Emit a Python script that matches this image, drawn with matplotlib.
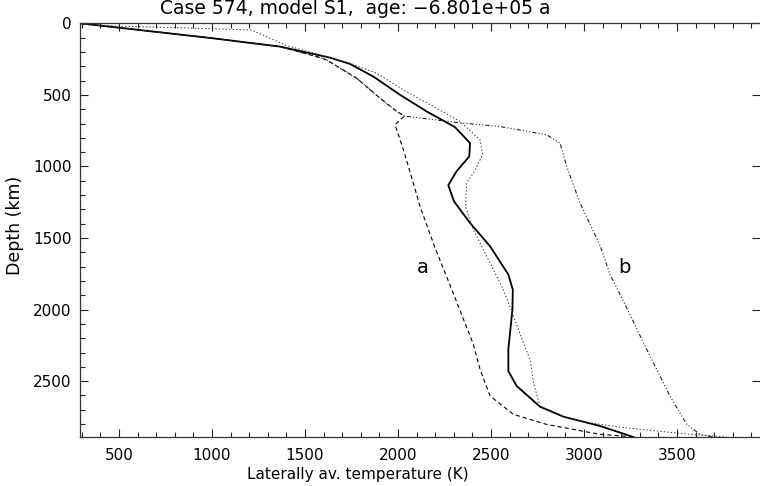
import matplotlib
matplotlib.use("Agg")
from matplotlib import pyplot as plt
from matplotlib.ticker import MultipleLocator

# laterally averaged temperature profiles
solid_T = [290, 1007, 1366, 1634, 1742, 1867, 2011, 2154, 2306, 2387, 2383, 2315,
           2270, 2301, 2387, 2495, 2593, 2617, 2615, 2593, 2593, 2638, 2763, 2889,
           3086, 3265]
solid_D = [0, 105, 163, 240, 284, 372, 500, 616, 725, 837, 930, 1033,
           1131, 1244, 1395, 1558, 1755, 1860, 1999, 2278, 2430, 2534, 2678, 2748,
           2813, 2890]

dotted_T = [290, 468, 828, 1213, 1402, 1543, 1742, 1885, 2029, 2190, 2333, 2441,
            2455, 2405, 2369, 2363, 2396, 2512, 2566, 2611, 2674, 2710, 2728, 2763,
            2889, 2996, 3211, 3391, 3570, 3767]
dotted_D = [5, 19, 31, 47, 156, 207, 280, 349, 465, 582, 686, 814,
            918, 1046, 1116, 1279, 1418, 1720, 1860, 2011, 2232, 2349, 2510, 2674,
            2745, 2785, 2824, 2848, 2871, 2890]

a_T = [290, 1007, 1366, 1563, 1616, 1778, 1903, 1993, 2035, 2015, 1984, 2029,
       2082, 2118, 2199, 2289, 2324, 2405, 2441, 2495, 2620, 2799, 2995, 3086, 3274]
a_D = [0, 105, 163, 233, 256, 384, 523, 616, 648, 670, 709, 884,
       1116, 1279, 1569, 1860, 1976, 2243, 2418, 2604, 2732, 2802, 2850, 2871, 2890]

b_T = [290, 1007, 1366, 1563, 1616, 1778, 1903, 1993, 2035, 2316, 2548, 2799,
       2871, 2907, 2978, 3084, 3140, 3220, 3337, 3462, 3552, 3624, 3694]
b_D = [0, 105, 163, 233, 256, 384, 523, 616, 648, 693, 721, 779,
       837, 1000, 1255, 1546, 1755, 1964, 2278, 2604, 2801, 2871, 2890]

x_ticks = [500, 1000, 1500, 2000, 2500, 3000, 3500]
y_ticks = [0, 500, 1000, 1500, 2000, 2500]

plt.rcParams["font.family"] = "DejaVu Sans"
plt.rcParams["lines.scale_dashes"] = False

fig = plt.figure(figsize=(7.6, 4.86), dpi=100)
ax = fig.add_axes([80 / 760, 49 / 486, 680 / 760, 413.7 / 486])

ax.plot(solid_T, solid_D, color="black", lw=1.3)
ax.plot(dotted_T, dotted_D, color="#333333", lw=0.7, linestyle=(0, (1, 1.5)))
ax.plot(a_T, a_D, color="black", lw=0.8, linestyle=(0, (3, 2.2)))
ax.plot(b_T, b_D, color="#222222", lw=0.8,
        linestyle=(0, (3, 1.5, 0.8, 1.5, 0.8, 1.5, 0.8, 1.5)))

ax.text(2134, 1706, "a", fontsize=14, ha="center", va="center")
ax.text(3215, 1706, "b", fontsize=14, ha="center", va="center")

ax.set_xlim(290, 3946)
ax.set_ylim(2890, 0)
ax.set_xticks(x_ticks)
ax.set_yticks(y_ticks)
ax.xaxis.set_minor_locator(MultipleLocator(100))
ax.yaxis.set_minor_locator(MultipleLocator(100))
ax.tick_params(which="both", direction="in", top=True, right=True,
               labelsize=11, width=0.8, color="#222222")
ax.tick_params(which="major", length=6)
ax.tick_params(which="minor", length=3.5)
ax.tick_params(axis="y", which="minor", right=False)
ax.tick_params(axis="x", pad=8)
ax.tick_params(axis="y", pad=6)
for s in ax.spines.values():
    s.set_linewidth(0.9)
    s.set_color("#333333")
ax.spines["right"].set_visible(False)

fig.text(355 / 760, 1 - 9 / 486, "Case 574, model S1,  age: \u22126.801e+05 a",
         fontsize=13.5, ha="center", va="center")
fig.text(358 / 760, 1 - 474 / 486, "Laterally av. temperature (K)",
         fontsize=11, ha="center", va="center")
fig.text(15 / 760, 1 - 225 / 486, "Depth (km)", fontsize=12.5,
         rotation=90, ha="center", va="center")

fig.savefig("out.png", dpi=100)
